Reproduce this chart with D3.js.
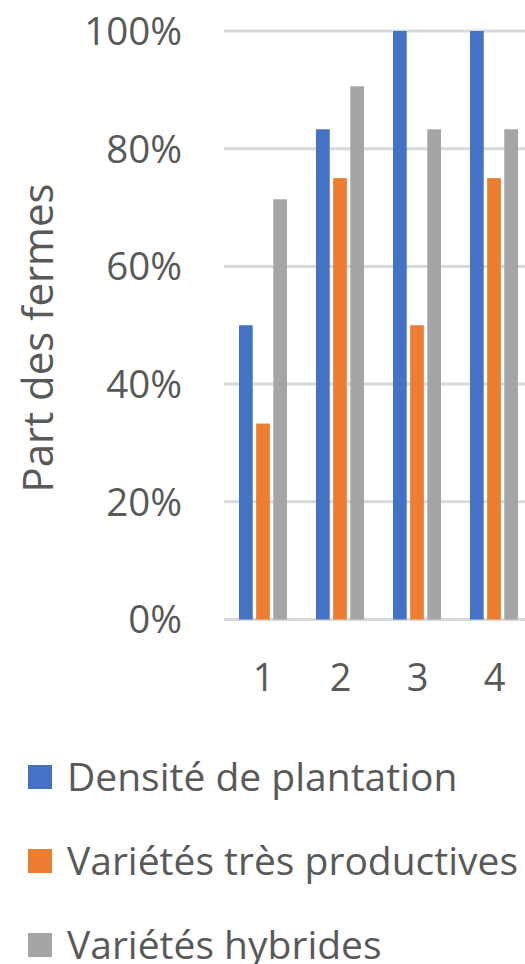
<!DOCTYPE html>
<html>
<head>
<meta charset="utf-8">
<script src="https://cdn.jsdelivr.net/npm/d3@7"></script>
<style>
  html, body { margin: 0; padding: 0; background: #fff; overflow: hidden; }
  svg { display: block; }
  text { font-family: "Open Sans", sans-serif; fill: #595959; }
</style>
</head>
<body>
<svg id="chart" width="525" height="964"></svg>
<script>
const categories = ["1", "2", "3", "4"];
const seriesNames = ["Densité de plantation", "Variétés très productives", "Variétés hybrides"];
const seriesColors = ["#4472C4", "#ED7D31", "#A5A5A5"];
const densite = [0.50, 0.833, 1.00, 1.00];
const tresProductives = [0.333, 0.75, 0.50, 0.75];
const hybrides = [0.714, 0.906, 0.833, 0.833];
const yTicks = [0, 0.2, 0.4, 0.6, 0.8, 1.0];
const yTitle = "Part des fermes";

const seriesValues = [densite, tresProductives, hybrides];

const svg = d3.select("#chart");

const x = d3.scaleBand().domain(categories).range([224, 532]).padding(0);
const xInner = d3.scaleBand().domain(seriesNames).range([0, 48]).paddingInner(0.2).paddingOuter(0);
const y = d3.scaleLinear().domain([0, 1]).range([619.5, 31]);

// gridlines
svg.append("g").selectAll("line").data(yTicks).join("line")
  .attr("x1", 224).attr("x2", 540)
  .attr("y1", d => y(d)).attr("y2", d => y(d))
  .attr("stroke", "#D9D9D9").attr("stroke-width", 3);

// y axis labels
const yAxis = d3.axisLeft(y).tickValues(yTicks).tickFormat(d3.format(".0%")).tickSize(0).tickPadding(0);
const gy = svg.append("g").attr("transform", "translate(182,0)").call(yAxis);
gy.select(".domain").remove();
gy.selectAll("text").style("font-size", "38.5px").attr("fill", "#595959")
  .attr("font-family", "Open Sans").attr("dy", "0.35em");

// x axis labels
const xAxis = d3.axisBottom(x).tickSize(0).tickPadding(0);
const gx = svg.append("g").attr("transform", "translate(1,691)").call(xAxis);
gx.select(".domain").remove();
gx.selectAll("text").style("font-size", "38px").attr("fill", "#595959")
  .attr("font-family", "Open Sans").attr("dy", "0");

// bars
const groups = svg.append("g").selectAll("g").data(categories).join("g")
  .attr("transform", d => `translate(${x(d) + x.bandwidth() / 2 - 24 + 0.5},0)`);
groups.selectAll("rect")
  .data((c, ci) => seriesNames.map((s, si) => ({ s, si, v: seriesValues[si][ci] })))
  .join("rect")
  .attr("x", d => xInner(d.s))
  .attr("width", xInner.bandwidth())
  .attr("y", d => y(d.v))
  .attr("height", d => y(0) - y(d.v))
  .attr("fill", d => seriesColors[d.si]);

// y title
svg.append("text")
  .attr("transform", "translate(53,338) rotate(-90)")
  .attr("text-anchor", "middle")
  .style("font-size", "42px")
  .text(yTitle);

// legend
const legend = svg.append("g").selectAll("g").data(seriesNames).join("g")
  .attr("transform", (d, i) => `translate(28,${765 + i * 84})`);
legend.append("rect").attr("width", 24).attr("height", 24)
  .attr("fill", (d, i) => seriesColors[i]);
legend.append("text").attr("x", 39).attr("y", 26)
  .style("font-size", "39px").text(d => d);
</script>
</body>
</html>
